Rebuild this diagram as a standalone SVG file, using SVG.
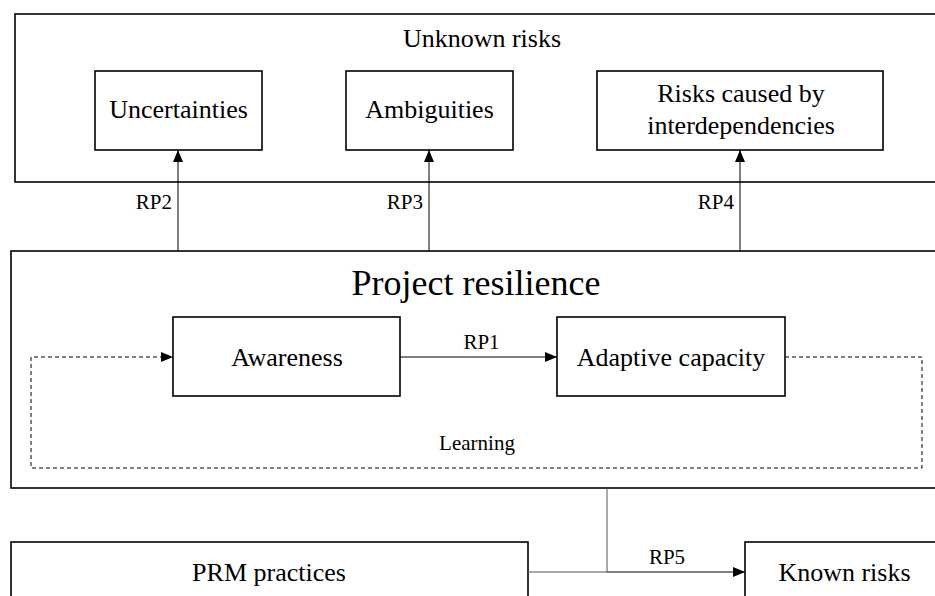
<svg xmlns="http://www.w3.org/2000/svg" width="935" height="596" viewBox="0 0 935 596">
<style>
.box{fill:#fff;stroke:#000;stroke-width:1.6}
.t{font-family:"Liberation Serif","Times New Roman",serif;fill:#000;text-anchor:middle}
.big{font-size:26px}
.lbl{font-size:21px}
.conn{fill:none;stroke:#000;stroke-width:1}
.gray{stroke:#555}
.dash{fill:none;stroke:#000;stroke-width:1;stroke-dasharray:4 3}
</style>
<defs>
<marker id="ah" markerUnits="userSpaceOnUse" markerWidth="12" markerHeight="10" refX="12" refY="5" orient="auto">
<path d="M0,0 L12,5 L0,10 z" fill="#000"/>
</marker>
</defs>
<rect width="935" height="596" fill="#fff"/>

<g id="unknown-risks">
<rect class="box" x="15" y="14" width="940" height="168"/>
<text class="t big" x="482" y="47">Unknown risks</text>
</g>
<g id="uncertainties">
<rect class="box" x="95" y="71" width="167" height="79"/>
<text class="t big" x="178.5" y="118">Uncertainties</text>
</g>
<g id="ambiguities">
<rect class="box" x="346" y="71" width="167" height="79"/>
<text class="t big" x="429.5" y="118">Ambiguities</text>
</g>
<g id="interdependencies">
<rect class="box" x="597" y="71" width="286" height="79"/>
<text class="t big" x="741" y="102">Risks caused by</text>
<text class="t big" x="741" y="134">interdependencies</text>
</g>

<g id="project-resilience">
<rect class="box" x="11" y="251" width="944" height="237"/>
<text class="t" style="font-size:36px" x="476" y="295">Project resilience</text>
</g>
<g id="awareness">
<rect class="box" x="173" y="317" width="227" height="79"/>
<text class="t big" x="287" y="366">Awareness</text>
</g>
<g id="adaptive-capacity">
<rect class="box" x="557" y="317" width="228" height="79"/>
<text class="t big" x="671" y="366">Adaptive capacity</text>
</g>

<g id="prm-practices">
<rect class="box" x="11" y="542" width="517" height="80"/>
<text class="t big" x="269" y="581">PRM practices</text>
</g>
<g id="known-risks">
<rect class="box" x="745" y="542" width="220" height="80"/>
<text class="t big" x="844.5" y="581">Known risks</text>
</g>

<g id="connectors">
<line class="conn" x1="178" y1="251" x2="178" y2="150" marker-end="url(#ah)"/>
<line class="conn" x1="429" y1="251" x2="429" y2="150" marker-end="url(#ah)"/>
<line class="conn" x1="740" y1="251" x2="740" y2="150" marker-end="url(#ah)"/>
<text class="t lbl" style="text-anchor:end" x="172" y="209">RP2</text>
<text class="t lbl" style="text-anchor:end" x="423" y="209">RP3</text>
<text class="t lbl" style="text-anchor:end" x="734" y="209">RP4</text>

<line class="conn" x1="400" y1="357" x2="557" y2="357" marker-end="url(#ah)"/>
<text class="t lbl" x="481.5" y="349">RP1</text>

<path class="dash" d="M785,357 H922 V468 H31 V357 H173" marker-end="url(#ah)"/>
<text class="t lbl" x="477" y="450">Learning</text>

<path class="conn gray" d="M607,488 V572 M528,572 H607"/>
<line class="conn" x1="607" y1="572" x2="745" y2="572" marker-end="url(#ah)"/>
<text class="t lbl" x="667" y="564">RP5</text>
</g>
</svg>
